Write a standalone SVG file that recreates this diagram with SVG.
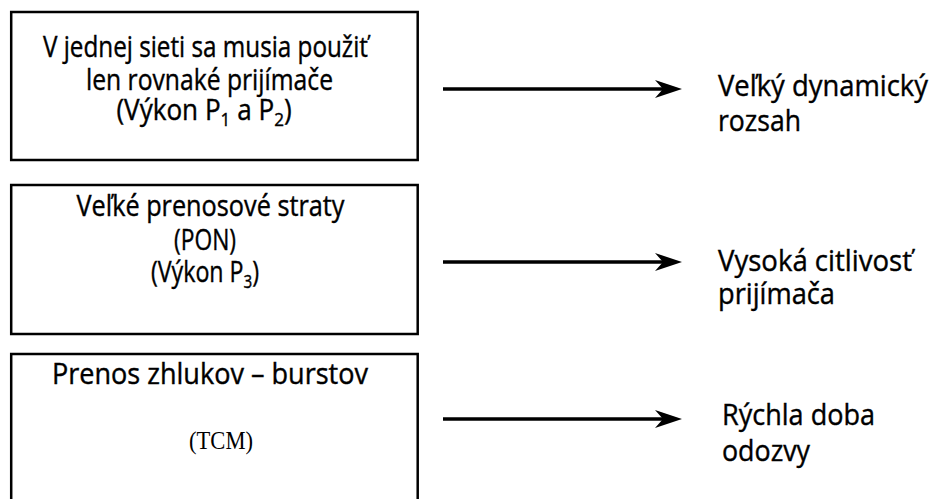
<svg xmlns="http://www.w3.org/2000/svg" width="937" height="499" viewBox="0 0 937 499">
<style>
.box{fill:#fff;stroke:#000;stroke-width:2.5}
.t{font-family:"Open Sans","Noto Sans","Liberation Sans",sans-serif;font-size:29px;fill:#000;stroke:#000;stroke-width:0.4}
.r{font-size:30px}
.m{text-anchor:middle}
.s{font-size:19px}
.tm{font-family:"Liberation Serif","Times New Roman",serif;font-size:25px;fill:#000;text-anchor:middle}
.c{stroke:#000;stroke-width:3.5;fill:none}
</style>
<defs>
<marker id="ah" markerUnits="userSpaceOnUse" markerWidth="30" markerHeight="20" refX="15" refY="9" orient="auto" viewBox="0 0 30 20">
<path d="M0,0 L27,9 L0,18 L8,9 Z" fill="#000"/>
</marker>
</defs>
<rect width="937" height="499" fill="#fff"/>
<g id="box1">
<rect class="box" x="11.2" y="12" width="406.5" height="148"/>
<text class="t m" x="205.5" y="57" textLength="325" lengthAdjust="spacingAndGlyphs">V jednej sieti sa musia použiť</text>
<text class="t m" x="209.5" y="90" textLength="247" lengthAdjust="spacingAndGlyphs">len rovnaké prijímače</text>
<text class="t m" transform="translate(204,120) scale(0.9,1)">(Výkon P<tspan class="s" dy="6">1</tspan><tspan dy="-6"> a P</tspan><tspan class="s" dy="6">2</tspan><tspan dy="-6">)</tspan></text>
</g>
<g id="box2">
<rect class="box" x="11.2" y="185" width="406.5" height="149"/>
<text class="t m" x="210.5" y="216" textLength="268" lengthAdjust="spacingAndGlyphs">Veľké prenosové straty</text>
<text class="t m" x="205" y="250" textLength="62" lengthAdjust="spacingAndGlyphs">(PON)</text>
<text class="t m" transform="translate(205,282) scale(0.8,1)">(Výkon P<tspan class="s" dy="6">3</tspan><tspan dy="-6">)</tspan></text>
</g>
<g id="box3">
<rect class="box" x="11.2" y="354" width="406.5" height="160"/>
<text class="t m" x="210" y="384" textLength="316" lengthAdjust="spacingAndGlyphs">Prenos zhlukov – burstov</text>
<text class="tm" x="221" y="449" textLength="64" lengthAdjust="spacingAndGlyphs">(TCM)</text>
</g>
<g id="out1">
<text class="t r" x="718" y="96" textLength="210" lengthAdjust="spacingAndGlyphs">Veľký dynamický</text>
<text class="t r" x="718" y="131" textLength="83" lengthAdjust="spacingAndGlyphs">rozsah</text>
</g>
<g id="out2">
<text class="t r" x="718" y="271" textLength="194" lengthAdjust="spacingAndGlyphs">Vysoká citlivosť</text>
<text class="t r" x="718" y="304" textLength="117" lengthAdjust="spacingAndGlyphs">prijímača</text>
</g>
<g id="out3">
<text class="t r" x="722" y="425" textLength="153" lengthAdjust="spacingAndGlyphs">Rýchla doba</text>
<text class="t r" x="722" y="461" textLength="88" lengthAdjust="spacingAndGlyphs">odozvy</text>
</g>
<g id="connectors">
<line class="c" x1="443" y1="89" x2="670" y2="89" marker-end="url(#ah)"/>
<line class="c" x1="443" y1="262" x2="670" y2="262" marker-end="url(#ah)"/>
<line class="c" x1="443" y1="419" x2="670" y2="419" marker-end="url(#ah)"/>
</g>
</svg>
